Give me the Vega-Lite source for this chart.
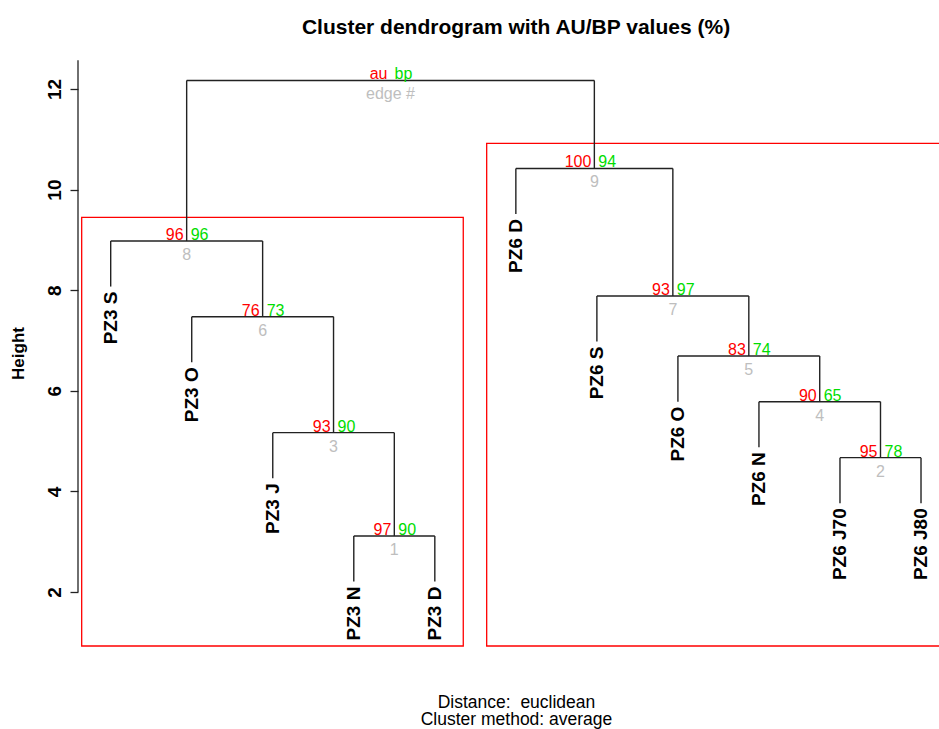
{
  "$schema": "https://vega.github.io/schema/vega-lite/v6.json",
  "width": 861,
  "height": 588,
  "autosize": {"type": "none"},
  "padding": {"left": 78, "top": 59, "right": 0, "bottom": 82},
  "config": {"font": "Liberation Sans", "view": {"stroke": null}},
  "title": {
    "text": "Cluster dendrogram with AU/BP values (%)",
    "fontSize": 21,
    "fontWeight": "bold",
    "anchor": "middle",
    "frame": "group",
    "dx": 7.5,
    "offset": 4,
    "baseline": "alphabetic",
    "color": "#000000"
  },
  "encoding": {
    "x": {
      "field": "x",
      "type": "quantitative",
      "scale": {"domain": [0.5965, 11.222], "nice": false, "zero": false},
      "axis": {
        "domain": false,
        "ticks": false,
        "labels": false,
        "grid": false,
        "title": ["Distance:\u00a0 euclidean", "Cluster method: average"],
        "titleX": 438,
        "titleY": 60,
        "titleFontSize": 17.5,
        "titleFontWeight": "normal",
        "titleLineHeight": 17.5,
        "titleBaseline": "alphabetic",
        "titleAlign": "center",
        "titleColor": "#000000"
      }
    },
    "y": {
      "field": "y",
      "type": "quantitative",
      "scale": {"domain": [0.906, 12.596], "nice": false, "zero": false},
      "axis": {
        "values": [2, 4, 6, 8, 10, 12],
        "domain": false,
        "grid": false,
        "tickSize": 8,
        "tickColor": "#222222",
        "tickWidth": 1.3,
        "labelAngle": 270,
        "labelAlign": "center",
        "labelBaseline": "alphabetic",
        "labelPadding": 10,
        "labelFontSize": 19,
        "labelFontWeight": "bold",
        "labelColor": "#000000",
        "title": "Height",
        "titleAngle": 270,
        "titleX": -55,
        "titleY": 294,
        "titleFontSize": 17,
        "titleFontWeight": "bold",
        "titleBaseline": "alphabetic",
        "titleAlign": "center",
        "titleColor": "#000000"
      }
    }
  },
  "layer": [
    {
      "data": {"values": [
        {"cluster": "PZ3", "x": 0.642, "x2": 5.351, "y": 0.926, "y2": 9.449},
        {"cluster": "PZ6", "x": 5.64, "x2": 11.35, "y": 0.926, "y2": 10.92}
      ]},
      "mark": {"type": "rect", "fillOpacity": 0, "fill": "#ffffff", "stroke": "#FF0000", "strokeWidth": 1.3, "clip": true},
      "encoding": {"x2": {"field": "x2"}, "y2": {"field": "y2"}}
    },
    {
      "data": {"values": [
        {"x": 4, "x2": 5, "y": 3.113, "y2": 3.113},
        {"x": 4, "x2": 4, "y": 3.113, "y2": 2.207},
        {"x": 5, "x2": 5, "y": 3.113, "y2": 2.207},
        {"x": 3, "x2": 4.5, "y": 5.167, "y2": 5.167},
        {"x": 3, "x2": 3, "y": 5.167, "y2": 4.261},
        {"x": 4.5, "x2": 4.5, "y": 5.167, "y2": 3.113},
        {"x": 2, "x2": 3.75, "y": 7.473, "y2": 7.473},
        {"x": 2, "x2": 2, "y": 7.473, "y2": 6.567},
        {"x": 3.75, "x2": 3.75, "y": 7.473, "y2": 5.167},
        {"x": 1, "x2": 2.875, "y": 8.978, "y2": 8.978},
        {"x": 1, "x2": 1, "y": 8.978, "y2": 8.072},
        {"x": 2.875, "x2": 2.875, "y": 8.978, "y2": 7.473},
        {"x": 10, "x2": 11, "y": 4.67, "y2": 4.67},
        {"x": 10, "x2": 10, "y": 4.67, "y2": 3.764},
        {"x": 11, "x2": 11, "y": 4.67, "y2": 3.764},
        {"x": 9, "x2": 10.5, "y": 5.783, "y2": 5.783},
        {"x": 9, "x2": 9, "y": 5.783, "y2": 4.877},
        {"x": 10.5, "x2": 10.5, "y": 5.783, "y2": 4.67},
        {"x": 8, "x2": 9.75, "y": 6.69, "y2": 6.69},
        {"x": 8, "x2": 8, "y": 6.69, "y2": 5.784},
        {"x": 9.75, "x2": 9.75, "y": 6.69, "y2": 5.783},
        {"x": 7, "x2": 8.875, "y": 7.885, "y2": 7.885},
        {"x": 7, "x2": 7, "y": 7.885, "y2": 6.979},
        {"x": 8.875, "x2": 8.875, "y": 7.885, "y2": 6.69},
        {"x": 6, "x2": 7.9375, "y": 10.42, "y2": 10.42},
        {"x": 6, "x2": 6, "y": 10.42, "y2": 9.514},
        {"x": 7.9375, "x2": 7.9375, "y": 10.42, "y2": 7.885},
        {"x": 1.9375, "x2": 6.96875, "y": 12.17, "y2": 12.17},
        {"x": 1.9375, "x2": 1.9375, "y": 12.17, "y2": 8.978},
        {"x": 6.96875, "x2": 6.96875, "y": 12.17, "y2": 10.42}
      ]},
      "mark": {"type": "rule", "color": "#222222", "strokeWidth": 1.4},
      "encoding": {"x2": {"field": "x2"}, "y2": {"field": "y2"}}
    },
    {
      "data": {"values": [{"x": 0.5965, "y": 2, "y2": 12.57}]},
      "mark": {"type": "rule", "color": "#222222", "strokeWidth": 1.3},
      "encoding": {"y2": {"field": "y2"}}
    },
    {
      "data": {"name": "nodes", "values": [
        {"x": 4.5, "y": 3.113, "au": "97", "bp": "90", "edge": "1"},
        {"x": 10.5, "y": 4.67, "au": "95", "bp": "78", "edge": "2"},
        {"x": 3.75, "y": 5.167, "au": "93", "bp": "90", "edge": "3"},
        {"x": 9.75, "y": 5.783, "au": "90", "bp": "65", "edge": "4"},
        {"x": 8.875, "y": 6.69, "au": "83", "bp": "74", "edge": "5"},
        {"x": 2.875, "y": 7.473, "au": "76", "bp": "73", "edge": "6"},
        {"x": 7.9375, "y": 7.885, "au": "93", "bp": "97", "edge": "7"},
        {"x": 1.9375, "y": 8.978, "au": "96", "bp": "96", "edge": "8"},
        {"x": 6.96875, "y": 10.42, "au": "100", "bp": "94", "edge": "9"},
        {"x": 4.453, "y": 12.17, "au": "au", "bp": "bp", "edge": "edge #"}
      ]},
      "layer": [
        {
          "mark": {"type": "text", "align": "right", "baseline": "alphabetic", "dx": -3, "dy": -1, "fontSize": 16, "color": "#FF0000"},
          "encoding": {"text": {"field": "au"}}
        },
        {
          "mark": {"type": "text", "align": "left", "baseline": "alphabetic", "dx": 4, "dy": -1, "fontSize": 16, "color": "#00DD00"},
          "encoding": {"text": {"field": "bp"}}
        },
        {
          "mark": {"type": "text", "align": "center", "baseline": "top", "dy": 6, "fontSize": 16, "color": "#BEBEBE"},
          "encoding": {"text": {"field": "edge"}}
        }
      ]
    },
    {
      "data": {"values": [
        {"label": "PZ3 S", "x": 1, "y": 8.072},
        {"label": "PZ3 O", "x": 2, "y": 6.567},
        {"label": "PZ3 J", "x": 3, "y": 4.261},
        {"label": "PZ3 N", "x": 4, "y": 2.207},
        {"label": "PZ3 D", "x": 5, "y": 2.207},
        {"label": "PZ6 D", "x": 6, "y": 9.514},
        {"label": "PZ6 S", "x": 7, "y": 6.979},
        {"label": "PZ6 O", "x": 8, "y": 5.784},
        {"label": "PZ6 N", "x": 9, "y": 4.877},
        {"label": "PZ6 J70", "x": 10, "y": 3.764},
        {"label": "PZ6 J80", "x": 11, "y": 3.764}
      ]},
      "mark": {"type": "text", "angle": 270, "align": "right", "baseline": "middle", "dx": -5, "fontSize": 19, "fontWeight": "bold", "color": "#000000"},
      "encoding": {"text": {"field": "label"}}
    }
  ]
}
